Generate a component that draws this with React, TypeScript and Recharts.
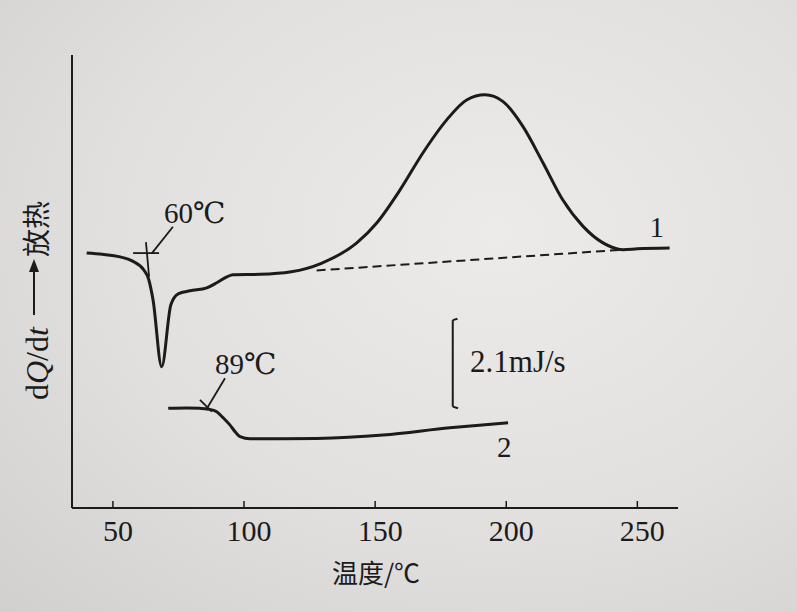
import React from 'react'
import { LineChart, Line, XAxis, YAxis, ReferenceLine, ReferenceDot } from 'recharts'

const INK = '#1b1b1b'
const SERIF = '"Liberation Serif", "DejaVu Serif", serif'
const CJK = '"Noto Sans CJK SC", sans-serif'

// curve 1: temperature (°C) and heat flow (mJ/s, arbitrary zero)
const temp1 = [40.0, 46.0, 52.7, 57.5, 61.8, 63.6, 65.3, 68.6, 72.1, 74.9, 79.4, 85.8, 89.6, 93.5, 95.8, 106.1, 118.0, 129.5, 143.0, 150.6, 159.5, 168.2, 177.3, 184.9, 191.9, 198.8, 206.4, 214.0, 221.6, 229.3, 236.9, 244.5, 250.0, 262.3]
const flow1 = [6.08, 6.05, 5.99, 5.89, 5.68, 5.47, 4.98, 3.40, 4.86, 5.12, 5.19, 5.26, 5.38, 5.52, 5.57, 5.58, 5.64, 5.84, 6.32, 6.79, 7.57, 8.44, 9.22, 9.69, 9.81, 9.65, 9.06, 8.21, 7.33, 6.71, 6.32, 6.16, 6.18, 6.20]

// curve 2
const temp2 = [71.1, 78.0, 83.2, 86.5, 89.6, 92.0, 94.6, 96.7, 98.5, 102.3, 110.0, 127.7, 153.0, 178.5, 200.7]
const flow2 = [2.42, 2.43, 2.42, 2.40, 2.34, 2.20, 2.03, 1.86, 1.75, 1.70, 1.70, 1.71, 1.79, 1.96, 2.08]

// dashed baseline under the exotherm
const baseT = [127.7, 244.5]
const baseV = [5.67, 6.16]

const xTicks = [50, 100, 150, 200, 250]

// onset markers (temperature, flow pairs)
const mark60 = [
  [[57.7, 6.08], [67.6, 6.08]],
  [[62.6, 6.34], [63.8, 5.52]],
  [[64.9, 6.08], [72.9, 6.7]],
]
const mark89 = [
  [[85.5, 2.38], [92.75, 3.13]],
  [[83.2, 2.62], [87.7, 2.34]],
]
// 2.1 mJ/s scale bar
const scaleBar = [
  [[179.6, 2.46], [179.6, 4.5]],
  [[179.6, 4.5], [181.4, 4.53]],
  [[179.6, 2.46], [181.6, 2.42]],
]

const curve1 = temp1.map((t, i) => ({ t, v: flow1[i] }))
const curve2 = temp2.map((t, i) => ({ t, v: flow2[i] }))
const baseline = baseT.map((t, i) => ({ t, v: baseV[i] }))

const TextMark = (props: any) => (
  <text
    x={props.cx}
    y={props.cy}
    textAnchor={props.anchor ?? 'start'}
    fontFamily={SERIF}
    fontSize={props.size ?? 29}
    fill={INK}
  >
    {props.text}
  </text>
)

const YTitle = ({ viewBox }: any) => {
  const cx = viewBox.x + 37
  const cy = viewBox.y + 246
  return (
    <g transform={`translate(${cx}, ${cy}) rotate(-90)`}>
      <text x={-99} y={11} fontFamily={SERIF} fontSize={32} fill={INK}>
        d<tspan fontStyle="italic">Q</tspan>/d<tspan fontStyle="italic">t</tspan>
      </text>
      <line x1={-14} y1={-3} x2={32} y2={-3} stroke={INK} strokeWidth={2} />
      <polygon points="42,-3 29,-8 29,2" fill={INK} />
      <text x={44} y={-2} dominantBaseline="central" fontFamily={CJK} fontSize={28} fill={INK}>
        放热
      </text>
    </g>
  )
}

const XTitle = ({ viewBox }: any) => (
  <text
    x={viewBox.x + viewBox.width / 2 + 1}
    y={viewBox.y + 63}
    textAnchor="middle"
    dominantBaseline="central"
    fontFamily={CJK}
    fontSize={26}
    fill={INK}
  >
    温度/℃
  </text>
)

const segs = (list: number[][][], key: string, width = 1.8) =>
  list.map((s, i) => (
    <ReferenceLine
      key={key + i}
      segment={[{ x: s[0][0], y: s[0][1] }, { x: s[1][0], y: s[1][1] }]}
      stroke={INK}
      strokeWidth={width}
    />
  ))

export default function App() {
  return (
    <div
      style={{
        position: 'absolute',
        left: 0,
        top: 0,
        width: 797,
        height: 612,
        background: 'radial-gradient(ellipse at 62% 38%, #ecebea 0%, #e2e0de 55%, #d2d0ce 100%)',
      }}
    >
      <LineChart width={797} height={612} margin={{ top: 55, right: 119, left: 0, bottom: 14 }}>
        <XAxis
          type="number"
          dataKey="t"
          domain={[34.4, 265.5]}
          allowDataOverflow
          ticks={xTicks}
          tickSize={-7}
          tickMargin={19}
          height={90}
          axisLine={{ stroke: INK, strokeWidth: 2 }}
          tickLine={{ stroke: INK, strokeWidth: 1.5 }}
          tick={{ fontSize: 30, fontFamily: SERIF, fill: INK, dx: 5 }}
          label={{ content: (p: any) => <XTitle viewBox={p.viewBox} /> }}
        />
        <YAxis
          type="number"
          domain={[0.07, 10.75]}
          allowDataOverflow
          width={72}
          tick={false}
          tickLine={false}
          axisLine={{ stroke: INK, strokeWidth: 2 }}
          label={{ content: (p: any) => <YTitle viewBox={p.viewBox} /> }}
        />
        <Line
          data={baseline}
          dataKey="v"
          type="linear"
          stroke={INK}
          strokeWidth={2}
          strokeDasharray="9 5"
          dot={false}
          isAnimationActive={false}
        />
        <Line
          data={curve1}
          dataKey="v"
          type="monotone"
          stroke={INK}
          strokeWidth={3}
          dot={false}
          isAnimationActive={false}
        />
        <Line
          data={curve2}
          dataKey="v"
          type="monotone"
          stroke={INK}
          strokeWidth={3}
          dot={false}
          isAnimationActive={false}
        />
        {segs(mark60, 'm60')}
        {segs(mark89, 'm89')}
        {segs(scaleBar, 'sb', 2)}
        <ReferenceDot x={69.5} y={6.79} r={0} shape={(p: any) => <TextMark {...p} text="60℃" />} />
        <ReferenceDot x={88.9} y={3.23} r={0} shape={(p: any) => <TextMark {...p} text="89℃" />} />
        <ReferenceDot x={186.2} y={3.28} r={0} shape={(p: any) => <TextMark {...p} text="2.1mJ/s" size={31} />} />
        <ReferenceDot x={257.4} y={6.47} r={0} shape={(p: any) => <TextMark {...p} text="1" anchor="middle" />} />
        <ReferenceDot x={199.2} y={1.28} r={0} shape={(p: any) => <TextMark {...p} text="2" anchor="middle" />} />
      </LineChart>
    </div>
  )
}
